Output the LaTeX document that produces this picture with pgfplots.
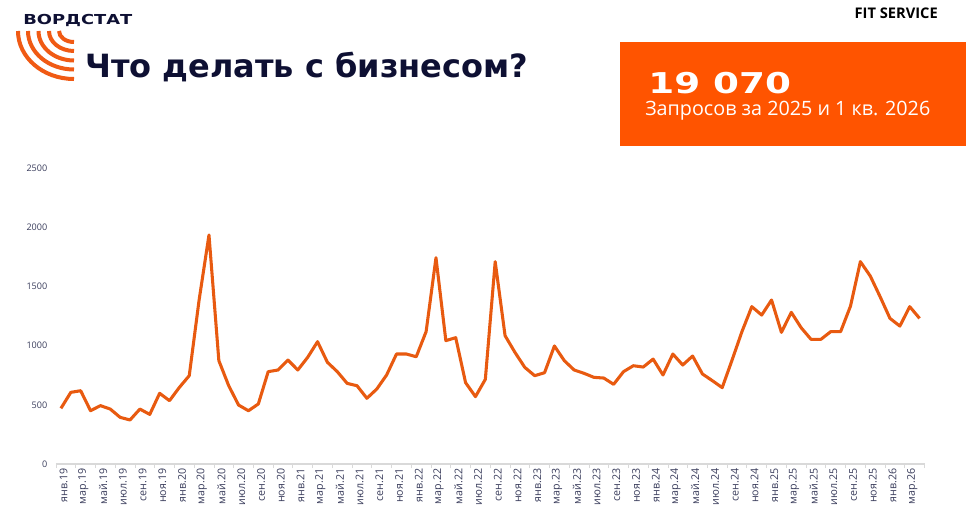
\documentclass[border=0pt]{standalone}
\usepackage{pgfplots}
\pgfplotsset{compat=1.18}
\usepackage{fontspec}
\setmainfont{Open Sans}
\newfontfamily\dejab{DejaVu Sans}
\definecolor{navy}{HTML}{0E1033}
\definecolor{orng}{HTML}{FF5400}
\definecolor{logoor}{HTML}{F05A14}
\definecolor{lineor}{HTML}{E85A10}
\definecolor{ticktxt}{HTML}{3A3D5C}
\definecolor{axgray}{HTML}{D9D9D9}
\begin{document}
\begin{tikzpicture}
\begin{scope}[x=0.75pt,y=-0.75pt]
\fill[white] (0,0) rectangle (975,518);
\fill[orng] (620,42) rectangle (966,146);
\foreach \rx/\ry in {56/48,46/38.5,35.5/29.5,25/20,15/11}{
  \draw[logoor,line width=3pt] ({74-\rx},31) arc[start angle=180,end angle=270,x radius=0.75*\rx pt,y radius=0.75*\ry pt];
}
\node[anchor=base west,inner sep=0,text=navy,font=\dejab\bfseries\fontsize{10.3}{11}\selectfont,xscale=1.3] at (23,24) {ВОРДСТАТ};
\node[anchor=base west,inner sep=0,text=navy,font=\dejab\bfseries\fontsize{24}{26}\selectfont,xscale=1.0] at (85,77) {Что делать с бизнесом?};
\node[anchor=base east,inner sep=0,text=black,font=\bfseries\fontsize{11}{12}\selectfont] at (938,18) {FIT SERVICE};
\node[anchor=base west,inner sep=0,text=white,font=\dejab\bfseries\fontsize{21.5}{22}\selectfont,xscale=1.3] at (648,93) {19 070};
\node[anchor=base west,inner sep=0,text=white,font=\fontsize{14.8}{15}\selectfont] at (645,115) {Запросов за 2025 и 1 кв. 2026};
\end{scope}
\begin{axis}[
  at={(42pt,-348pt)}, anchor=south west,
  scale only axis, width=651.4pt, height=222pt,
  xmin=-0.5, xmax=87.5, ymin=0, ymax=2500,
  axis x line*=bottom, axis y line*=left,
  x axis line style={draw=axgray,line width=0.8pt,-},
  y axis line style={draw=none},
  ytick={0,500,...,2500},
  xtick={0,2,...,86},
  xticklabels={янв.19,мар.19,май.19,июл.19,сен.19,ноя.19,
    янв.20,мар.20,май.20,июл.20,сен.20,ноя.20,
    янв.21,мар.21,май.21,июл.21,сен.21,ноя.21,
    янв.22,мар.22,май.22,июл.22,сен.22,ноя.22,
    янв.23,мар.23,май.23,июл.23,сен.23,ноя.23,
    янв.24,мар.24,май.24,июл.24,сен.24,ноя.24,
    янв.25,мар.25,май.25,июл.25,сен.25,ноя.25,
    янв.26,мар.26},
  major tick length=0pt,
  minor xtick={-0.5,1.5,...,87.5},
  minor tick length=3pt,
  tick align=outside,
  minor tick style={draw=axgray,line width=0.6pt},
  xticklabel style={rotate=90,anchor=east,font=\fontsize{8}{8}\selectfont,text=ticktxt,yshift=-2pt},
  yticklabel style={font=\fontsize{6.8}{7}\selectfont,text=ticktxt,xshift=-3pt},
  /pgf/number format/assume math mode=true,
  /pgf/number format/1000 sep={},
  clip=false,
]
\addplot[lineor,line width=2.3pt,line join=round,mark=none] coordinates {
(0,470) (1,605) (2,619) (3,450) (4,493) (5,464) (6,394) (7,372) (8,464) (9,419)
(10,597) (11,535) (12,647) (13,746) (14,1385) (15,1934) (16,873) (17,661) (18,498) (19,450)
(20,507) (21,780) (22,794) (23,878) (24,794) (25,901) (26,1033) (27,859) (28,780) (29,681)
(30,661) (31,555) (32,633) (33,752) (34,929) (35,929) (36,906) (37,1118) (38,1742) (39,1042)
(40,1067) (41,687) (42,569) (43,715) (44,1709) (45,1084) (46,943) (47,816) (48,746) (49,771)
(50,997) (51,873) (52,794) (53,766) (54,732) (55,726) (56,673) (57,780) (58,830) (59,819)
(60,886) (61,752) (62,929) (63,836) (64,912) (65,760) (66,704) (67,645) (68,878) (69,1118)
(70,1329) (71,1258) (72,1385) (73,1112) (74,1281) (75,1151) (76,1053) (77,1053) (78,1118) (79,1118)
(80,1334) (81,1709) (82,1588) (83,1413) (84,1230) (85,1165) (86,1329) (87,1230)
};
\end{axis}
\end{tikzpicture}
\end{document}
